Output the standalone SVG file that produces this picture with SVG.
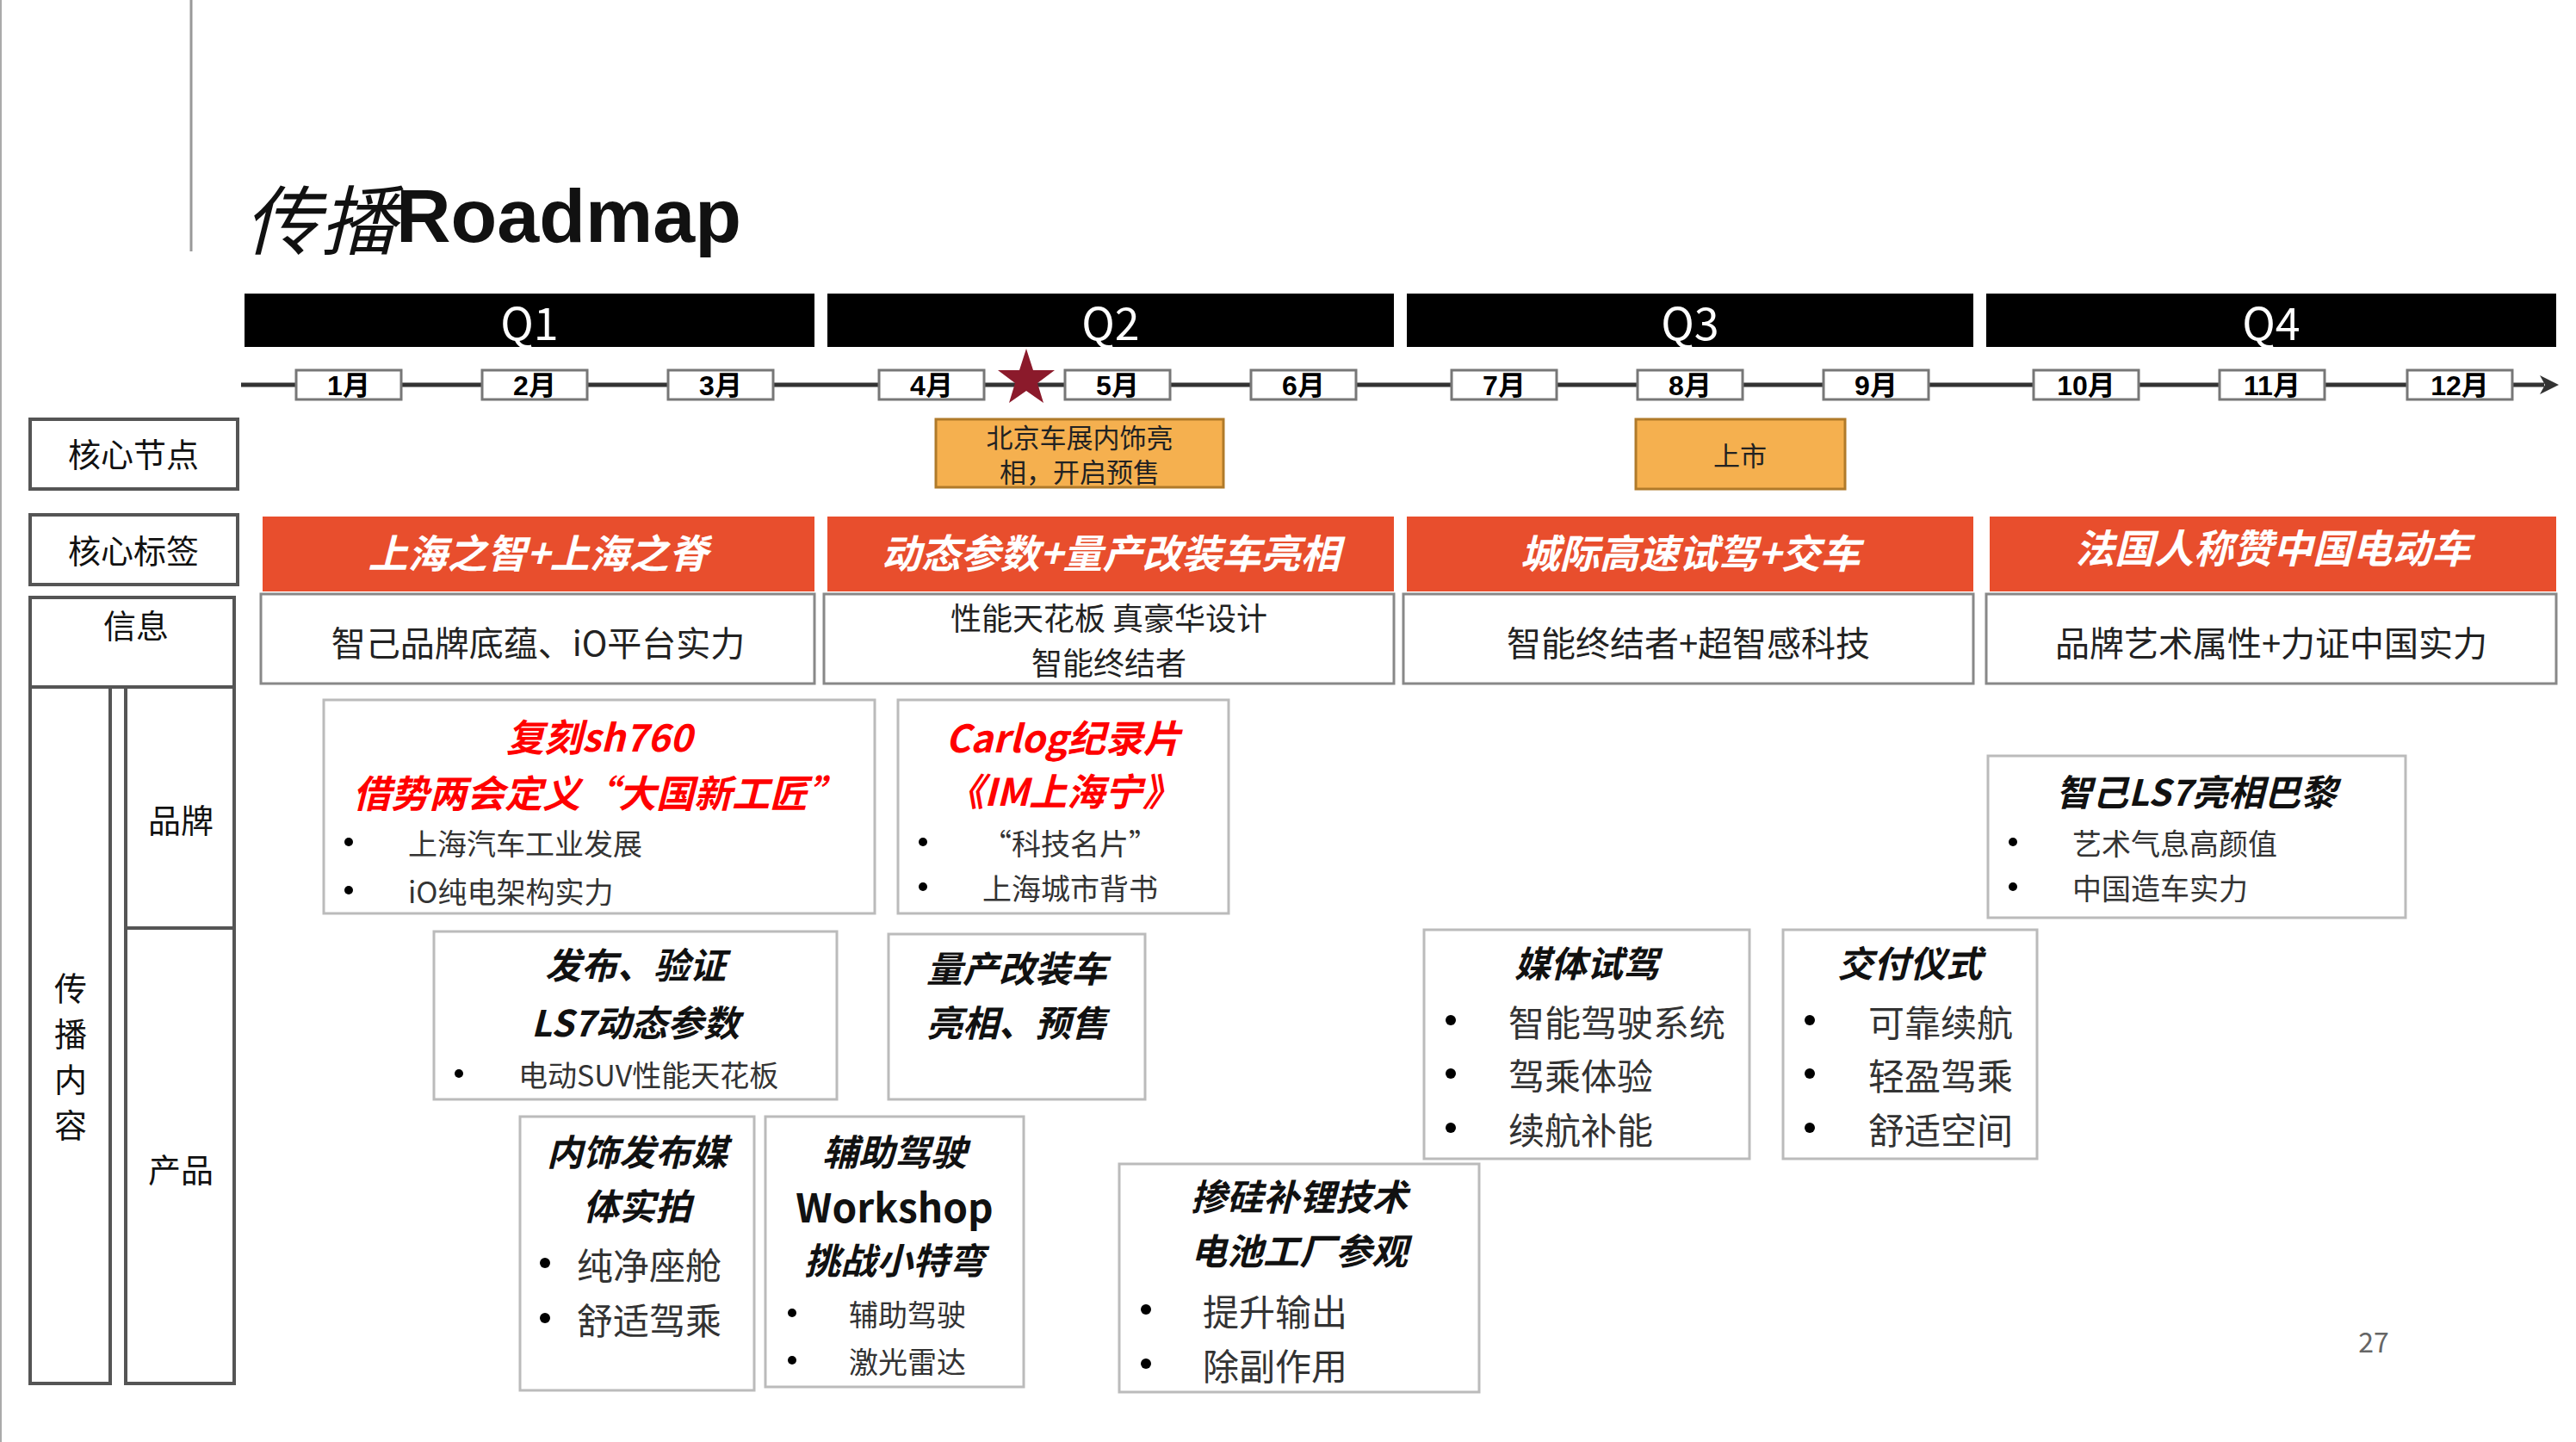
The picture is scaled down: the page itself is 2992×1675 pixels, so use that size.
<svg xmlns="http://www.w3.org/2000/svg" width="2992" height="1675" viewBox="0 0 2992 1675">
<style>
text{font-family:"Noto Sans CJK SC","Liberation Sans",sans-serif;dominant-baseline:central}
.q{fill:#000}
.qt{fill:#fff;font-size:52px;text-anchor:middle}
.mb{fill:#fff;stroke:#777;stroke-width:3}
.mt{font-size:32px;font-weight:bold;text-anchor:middle;font-family:"Liberation Sans Narrow","Liberation Sans","Noto Sans CJK SC",sans-serif}
.lab{fill:#fff;stroke:#555;stroke-width:4}
.lt{font-size:38px;text-anchor:middle;fill:#111}
.org{fill:#F5B04F;stroke:#B07A2A;stroke-width:3}
.ot{font-size:31px;text-anchor:middle;fill:#222}
.red{fill:#E84E2D}
.rt{font-size:46px;font-weight:bold;font-style:italic;fill:#fff;text-anchor:middle}
.info{fill:#fff;stroke:#888;stroke-width:3}
.it{font-size:40px;text-anchor:middle;fill:#222}
.it2{font-size:36px;text-anchor:middle;fill:#222}
.cb{fill:#fff;stroke:#bbb;stroke-width:3}
.h{font-size:42px;font-weight:bold;font-style:italic;text-anchor:middle;fill:#111}
.hr{font-size:44px;font-weight:bold;font-style:italic;text-anchor:middle;fill:#F00}
.b{font-size:34px;fill:#333}
.bl{font-size:42px;fill:#333}
.dot{fill:#000}
</style>
<line x1="1" y1="0" x2="1" y2="1675" stroke="#aaa" stroke-width="2"/>
<line x1="222" y1="0" x2="222" y2="292" stroke="#999" stroke-width="3"/>
<text x="284" y="250" font-size="88" fill="#111"><tspan font-style="italic">传播</tspan><tspan font-weight="bold" font-family="Liberation Sans,sans-serif">Roadmap</tspan></text>

<g id="quarters">
<rect class="q" x="284" y="341" width="662" height="62"/><text class="qt" x="615" y="372">Q1</text>
<rect class="q" x="961" y="341" width="658" height="62"/><text class="qt" x="1290" y="372">Q2</text>
<rect class="q" x="1634" y="341" width="658" height="62"/><text class="qt" x="1963" y="372">Q3</text>
<rect class="q" x="2307" y="341" width="662" height="62"/><text class="qt" x="2638" y="372">Q4</text>
</g>
<g id="connectors">
<line x1="280" y1="447" x2="2955" y2="447" stroke="#333" stroke-width="5"/>
<polygon points="2972,447 2950,436 2956,447 2950,458" fill="#333"/>
</g>
<g id="months">
<rect class="mb" x="344" y="430" width="122" height="34"/><text class="mt" x="405" y="448">1月</text>
<rect class="mb" x="560" y="430" width="122" height="34"/><text class="mt" x="621" y="448">2月</text>
<rect class="mb" x="776" y="430" width="122" height="34"/><text class="mt" x="837" y="448">3月</text>
<rect class="mb" x="1021" y="430" width="122" height="34"/><text class="mt" x="1082" y="448">4月</text>
<rect class="mb" x="1237" y="430" width="122" height="34"/><text class="mt" x="1298" y="448">5月</text>
<rect class="mb" x="1453" y="430" width="122" height="34"/><text class="mt" x="1514" y="448">6月</text>
<rect class="mb" x="1686" y="430" width="122" height="34"/><text class="mt" x="1747" y="448">7月</text>
<rect class="mb" x="1902" y="430" width="122" height="34"/><text class="mt" x="1963" y="448">8月</text>
<rect class="mb" x="2118" y="430" width="122" height="34"/><text class="mt" x="2179" y="448">9月</text>
<rect class="mb" x="2362" y="430" width="122" height="34"/><text class="mt" x="2423" y="448">10月</text>
<rect class="mb" x="2578" y="430" width="122" height="34"/><text class="mt" x="2639" y="448">11月</text>
<rect class="mb" x="2796" y="430" width="122" height="34"/><text class="mt" x="2857" y="448">12月</text>
</g>
<g id="star"><polygon fill="#8B1A2B" points="1192,405 1200,430 1225,430 1205,445 1212,468 1192,454 1172,468 1179,445 1159,430 1184,430"/></g>

<g id="row-labels">
<rect class="lab" x="35" y="487" width="241" height="81"/><text class="lt" x="155" y="525">核心节点</text>
<rect class="lab" x="35" y="598" width="241" height="81"/><text class="lt" x="155" y="637">核心标签</text>
<rect class="lab" x="35" y="694" width="237" height="104"/><text class="lt" x="158" y="724">信息</text>
<rect class="lab" x="35" y="798" width="93" height="809"/>
<text class="lt" x="82" y="1145">传</text><text class="lt" x="82" y="1198">播</text><text class="lt" x="82" y="1251">内</text><text class="lt" x="82" y="1304">容</text>
<rect class="lab" x="146" y="798" width="126" height="280"/><text class="lt" x="210" y="950">品牌</text>
<rect class="lab" x="146" y="1078" width="126" height="529"/><text class="lt" x="210" y="1356">产品</text>
</g>

<g id="node-beijing"><rect class="org" x="1087" y="487" width="334" height="79"/><text class="ot" x="1254" y="506">北京车展内饰亮</text><text class="ot" x="1254" y="546">相，开启预售</text></g>
<g id="node-launch"><rect class="org" x="1900" y="487" width="243" height="81"/><text class="ot" x="2021" y="527">上市</text></g>

<g id="tags">
<rect class="red" x="305" y="600" width="641" height="87"/><text class="rt" x="625" y="640">上海之智+上海之脊</text>
<rect class="red" x="961" y="600" width="658" height="87"/><text class="rt" x="1290" y="640">动态参数+量产改装车亮相</text>
<rect class="red" x="1634" y="600" width="658" height="87"/><text class="rt" x="1963" y="640">城际高速试驾+交车</text>
<rect class="red" x="2311" y="600" width="658" height="87"/><text class="rt" x="2640" y="634">法国人称赞中国电动车</text>
</g>
<g id="info">
<rect class="info" x="303" y="690" width="643" height="104"/><text class="it" x="625" y="745">智己品牌底蕴、iO平台实力</text>
<rect class="info" x="957" y="690" width="662" height="104"/><text class="it2" x="1288" y="716">性能天花板 真豪华设计</text><text class="it2" x="1288" y="768">智能终结者</text>
<rect class="info" x="1630" y="690" width="662" height="104"/><text class="it" x="1961" y="745">智能终结者+超智感科技</text>
<rect class="info" x="2307" y="690" width="662" height="104"/><text class="it" x="2638" y="745">品牌艺术属性+力证中国实力</text>
</g>

<g id="node-sh760">
<rect class="cb" x="376" y="813" width="640" height="248"/>
<text class="hr" x="696" y="854">复刻sh760</text>
<text class="hr" x="696" y="919">借势两会定义“大国新工匠”</text>
<circle class="dot" cx="405" cy="978" r="5"/><text class="b" x="474" y="978">上海汽车工业发展</text>
<circle class="dot" cx="405" cy="1034" r="5"/><text class="b" x="474" y="1034">iO纯电架构实力</text>
</g>
<g id="node-carlog">
<rect class="cb" x="1043" y="813" width="384" height="248"/>
<text class="hr" x="1235" y="855">Carlog纪录片</text>
<text class="hr" x="1235" y="917">《IM上海宁》</text>
<circle class="dot" cx="1072" cy="978" r="5"/><text class="b" x="1141" y="978">“科技名片”</text>
<circle class="dot" cx="1072" cy="1030" r="5"/><text class="b" x="1141" y="1030">上海城市背书</text>
</g>
<g id="node-ls7paris">
<rect class="cb" x="2309" y="878" width="485" height="188"/>
<text class="h" x="2551" y="917">智己LS7亮相巴黎</text>
<circle class="dot" cx="2338" cy="978" r="5"/><text class="b" x="2407" y="978">艺术气息高颜值</text>
<circle class="dot" cx="2338" cy="1030" r="5"/><text class="b" x="2407" y="1030">中国造车实力</text>
</g>
<g id="node-verify">
<rect class="cb" x="504" y="1082" width="468" height="195"/>
<text class="h" x="738" y="1118">发布、验证</text>
<text class="h" x="738" y="1185">LS7动态参数</text>
<circle class="dot" cx="533" cy="1247" r="5"/><text class="b" x="602" y="1247">电动SUV性能天花板</text>
</g>
<g id="node-mass">
<rect class="cb" x="1032" y="1085" width="298" height="192"/>
<text class="h" x="1181" y="1122">量产改装车</text>
<text class="h" x="1181" y="1185">亮相、预售</text>
</g>
<g id="node-media">
<rect class="cb" x="1654" y="1080" width="378" height="266"/>
<text class="h" x="1843" y="1116">媒体试驾</text>
<circle class="dot" cx="1685" cy="1185" r="6"/><text class="bl" x="1752" y="1185">智能驾驶系统</text>
<circle class="dot" cx="1685" cy="1247" r="6"/><text class="bl" x="1752" y="1247">驾乘体验</text>
<circle class="dot" cx="1685" cy="1310" r="6"/><text class="bl" x="1752" y="1310">续航补能</text>
</g>
<g id="node-delivery">
<rect class="cb" x="2071" y="1080" width="295" height="266"/>
<text class="h" x="2218" y="1116">交付仪式</text>
<circle class="dot" cx="2102" cy="1185" r="6"/><text class="bl" x="2170" y="1185">可靠续航</text>
<circle class="dot" cx="2102" cy="1247" r="6"/><text class="bl" x="2170" y="1247">轻盈驾乘</text>
<circle class="dot" cx="2102" cy="1310" r="6"/><text class="bl" x="2170" y="1310">舒适空间</text>
</g>
<g id="node-interior">
<rect class="cb" x="604" y="1297" width="272" height="318"/>
<text class="h" x="740" y="1335">内饰发布媒</text>
<text class="h" x="740" y="1398">体实拍</text>
<circle class="dot" cx="633" cy="1467" r="6"/><text class="bl" x="670" y="1467">纯净座舱</text>
<circle class="dot" cx="633" cy="1531" r="6"/><text class="bl" x="670" y="1531">舒适驾乘</text>
</g>
<g id="node-workshop">
<rect class="cb" x="889" y="1297" width="300" height="314"/>
<text class="h" x="1039" y="1335">辅助驾驶</text>
<text class="h" x="1039" y="1400" style="font-style:normal;font-size:46px">Workshop</text>
<text class="h" x="1039" y="1461">挑战小特弯</text>
<circle class="dot" cx="920" cy="1525" r="5"/><text class="b" x="986" y="1525">辅助驾驶</text>
<circle class="dot" cx="920" cy="1580" r="5"/><text class="b" x="986" y="1580">激光雷达</text>
</g>
<g id="node-battery">
<rect class="cb" x="1300" y="1352" width="418" height="265"/>
<text class="h" x="1509" y="1387">掺硅补锂技术</text>
<text class="h" x="1509" y="1450">电池工厂参观</text>
<circle class="dot" cx="1331" cy="1521" r="6"/><text class="bl" x="1397" y="1521">提升输出</text>
<circle class="dot" cx="1331" cy="1584" r="6"/><text class="bl" x="1397" y="1584">除副作用</text>
</g>
<text x="2757" y="1557" font-size="32" fill="#666" text-anchor="middle">27</text>
</svg>
